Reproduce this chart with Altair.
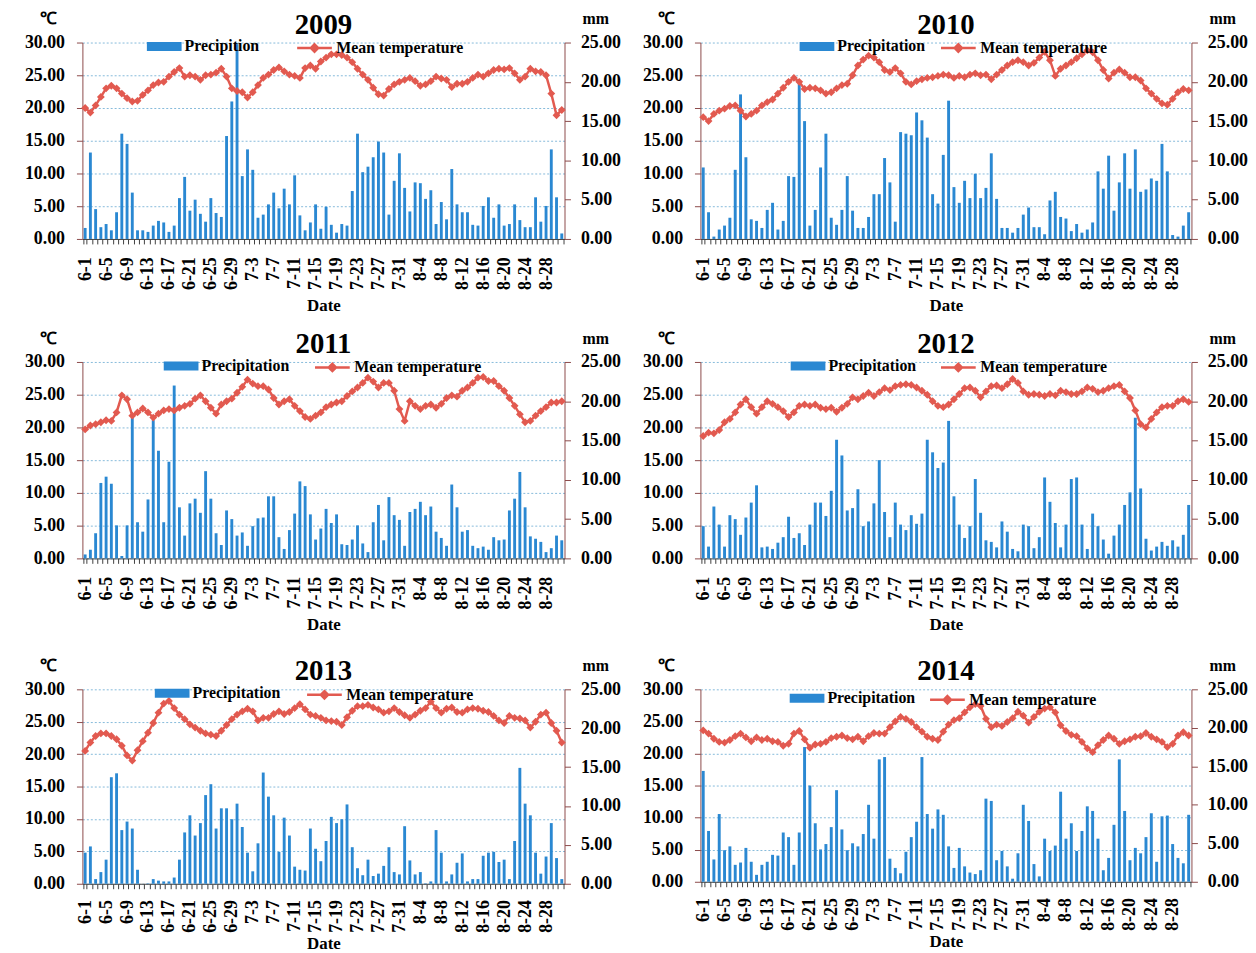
import json
import altair as alt
import pandas as pd

MONTHS = [(6, 30), (7, 31), (8, 31)]
dates = [f"{m}-{d}" for m, n in MONTHS for d in range(1, n + 1)]
shown_labels = dates[::4]

prec_2009 = [1.4, 11.0, 3.8, 1.5, 1.9, 1.1, 3.4, 13.4, 12.1, 5.9,
             1.1, 1.1, 0.9, 1.7, 2.3, 2.1, 0.9, 1.7, 5.2, 7.9,
             3.6, 5.0, 3.2, 2.2, 5.2, 3.3, 2.8, 13.1, 17.5, 24.8,
             8.0, 11.4, 8.8, 2.7, 3.1, 4.4, 5.9, 3.9, 6.4, 4.4,
             8.1, 3.0, 1.1, 2.1, 4.4, 1.3, 4.1, 1.8, 0.8, 1.9,
             1.7, 6.1, 13.4, 8.5, 9.2, 10.4, 12.4, 11.0, 3.1, 7.4,
             10.9, 6.5, 3.5, 7.2, 7.1, 5.1, 6.2, 1.9, 4.7, 2.5,
             8.9, 4.4, 3.4, 3.4, 1.8, 1.7, 4.2, 5.3, 2.7, 4.4,
             1.7, 1.9, 4.4, 2.4, 1.5, 1.5, 5.3, 2.2, 4.2, 11.4,
             5.3, 0.7]
temp_2009 = [20.0, 19.3, 20.4, 21.7, 23.0, 23.4, 23.0, 22.2, 21.5, 21.0,
             21.1, 22.0, 22.7, 23.5, 23.9, 24.0, 24.8, 25.5, 26.1, 24.8,
             25.0, 24.8, 24.3, 25.0, 25.1, 25.4, 26.0, 24.8, 23.0, 22.6,
             22.4, 21.6, 22.4, 23.5, 24.6, 25.1, 25.8, 26.2, 25.6, 25.1,
             24.9, 24.6, 26.1, 26.5, 26.0, 27.1, 27.7, 28.2, 28.2, 28.1,
             27.7, 27.0, 26.0, 25.1, 24.3, 23.1, 22.1, 21.9, 22.9, 23.6,
             24.0, 24.3, 24.6, 24.1, 23.4, 23.6, 24.1, 24.8, 24.5, 24.3,
             23.2, 23.7, 23.7, 24.0, 24.6, 25.1, 24.8, 25.3, 25.8, 26.0,
             25.9, 26.1, 25.3, 24.3, 24.8, 26.0, 25.6, 25.5, 25.0, 22.2,
             18.9, 19.7]

prec_2010 = [9.1, 3.4, 0.3, 1.2, 1.7, 2.7, 8.8, 18.4, 10.4, 2.5,
             2.3, 1.4, 3.7, 4.6, 1.2, 2.3, 8.0, 7.9, 20.0, 15.0,
             1.7, 3.7, 9.1, 13.4, 2.7, 1.8, 3.7, 8.0, 3.6, 1.4,
             1.4, 2.8, 5.7, 5.7, 10.3, 7.2, 2.2, 13.6, 13.4, 13.2,
             16.1, 15.1, 12.9, 5.7, 4.5, 10.7, 17.6, 6.6, 4.6, 7.4,
             5.2, 8.3, 5.2, 6.5, 10.9, 5.1, 1.4, 1.4, 0.8, 1.4,
             3.1, 4.0, 1.5, 1.5, 0.6, 4.9, 6.0, 2.8, 2.6, 1.0,
             1.9, 0.8, 1.2, 2.1, 8.6, 6.4, 10.6, 3.6, 7.2, 10.9,
             6.4, 11.4, 6.0, 6.3, 7.7, 7.4, 12.1, 8.6, 0.5, 0.3,
             1.7, 3.4]
temp_2010 = [18.6, 18.0, 19.1, 19.6, 19.9, 20.3, 20.4, 19.6, 18.7, 19.1,
             19.6, 20.4, 20.9, 21.3, 22.2, 23.1, 24.0, 24.6, 24.0, 22.9,
             23.1, 23.0, 22.7, 22.2, 22.4, 23.0, 23.5, 23.7, 25.0, 26.5,
             27.4, 28.0, 27.7, 27.0, 25.8, 25.5, 26.1, 25.3, 24.0, 23.6,
             24.1, 24.4, 24.6, 24.7, 24.9, 25.1, 25.0, 24.6, 24.9, 24.7,
             25.1, 25.3, 25.0, 25.1, 24.4, 25.1, 25.8, 26.5, 27.0, 27.3,
             27.0, 26.5, 26.9, 27.7, 28.6, 27.3, 24.9, 26.0, 26.5, 27.0,
             27.6, 28.2, 28.8, 28.5, 27.3, 25.8, 24.5, 25.4, 25.9, 25.4,
             24.7, 24.7, 24.2, 23.0, 22.2, 21.4, 20.7, 20.5, 21.4, 22.4,
             22.9, 22.7]

prec_2011 = [0.5, 1.1, 3.2, 9.6, 10.4, 9.5, 4.2, 0.3, 4.2, 17.9,
             4.6, 3.4, 7.5, 17.6, 13.7, 4.6, 12.3, 22.0, 6.5, 2.9,
             7.0, 7.6, 5.8, 11.1, 7.6, 3.2, 1.7, 6.1, 5.0, 2.9,
             3.3, 1.6, 4.1, 5.1, 5.2, 7.9, 7.9, 2.7, 1.2, 3.6,
             5.7, 9.8, 9.2, 5.6, 2.4, 3.8, 6.3, 4.5, 5.6, 1.8,
             1.7, 2.4, 4.2, 1.9, 0.8, 4.6, 6.8, 2.3, 7.8, 5.5,
             4.9, 1.6, 5.9, 6.3, 7.2, 5.5, 6.6, 3.4, 2.6, 1.6,
             9.4, 6.5, 3.4, 3.6, 1.6, 1.3, 1.5, 1.1, 2.7, 2.3,
             2.4, 6.1, 7.6, 11.0, 6.5, 2.8, 2.5, 2.1, 0.8, 1.3,
             2.9, 2.3]
temp_2011 = [19.7, 20.3, 20.5, 20.8, 21.1, 21.0, 22.3, 24.9, 24.3, 21.8,
             22.3, 22.9, 22.3, 21.5, 22.1, 22.6, 22.8, 22.6, 23.0, 23.3,
             23.6, 24.4, 24.9, 24.0, 23.0, 22.1, 23.5, 24.0, 24.4, 25.3,
             26.2, 27.3, 26.7, 26.3, 26.3, 25.8, 24.5, 23.5, 24.0, 24.3,
             23.3, 22.5, 21.6, 21.3, 21.8, 22.3, 23.1, 23.5, 23.8, 24.0,
             24.8, 25.5, 26.1, 26.8, 27.6, 27.0, 26.1, 26.8, 26.8, 25.6,
             22.8, 21.0, 24.0, 23.3, 22.8, 23.3, 23.5, 23.0, 23.6, 24.5,
             24.9, 24.7, 25.6, 26.1, 26.8, 27.6, 27.7, 27.1, 27.1, 26.3,
             25.6, 24.5, 23.3, 22.0, 20.8, 21.0, 21.8, 22.5, 23.1, 23.8,
             23.8, 24.0]

prec_2012 = [4.1, 1.5, 6.6, 4.3, 1.5, 5.5, 5.0, 3.0, 5.2, 7.1,
             9.3, 1.4, 1.5, 1.2, 2.0, 2.7, 5.3, 2.6, 3.2, 1.7,
             4.3, 7.1, 7.1, 5.4, 8.6, 15.1, 13.1, 6.1, 6.4, 8.8,
             4.1, 4.7, 7.0, 12.5, 5.9, 2.7, 7.1, 4.3, 3.6, 5.5,
             4.4, 5.7, 15.1, 13.5, 11.5, 12.2, 17.5, 7.9, 4.3, 2.6,
             4.1, 10.1, 5.8, 2.3, 2.1, 1.4, 4.7, 3.4, 1.2, 0.9,
             4.3, 4.1, 1.3, 2.7, 10.3, 7.2, 4.5, 1.4, 4.3, 10.1,
             10.3, 4.3, 1.2, 5.7, 4.1, 2.4, 0.6, 2.9, 4.3, 6.8,
             8.4, 17.9, 8.9, 2.5, 1.0, 1.5, 2.1, 1.6, 2.3, 1.5,
             3.0, 6.8]
temp_2012 = [18.7, 19.2, 19.1, 19.6, 20.8, 21.3, 22.3, 23.5, 24.3, 23.1,
             22.1, 23.1, 24.0, 23.6, 23.1, 22.5, 21.6, 22.3, 23.3, 23.5,
             23.3, 23.5, 23.0, 22.8, 23.0, 22.4, 23.0, 23.6, 24.6, 24.3,
             24.8, 25.3, 24.8, 25.4, 26.0, 25.7, 26.3, 26.5, 26.6, 26.5,
             26.1, 25.6, 25.0, 24.0, 23.3, 23.1, 23.5, 24.3, 25.1, 26.0,
             26.1, 25.6, 24.6, 25.5, 26.3, 26.4, 26.0, 26.6, 27.4, 26.8,
             25.5, 25.0, 25.1, 25.0, 24.8, 25.1, 24.9, 25.6, 25.4, 25.1,
             25.1, 25.5, 26.1, 25.9, 25.4, 25.6, 26.0, 26.3, 26.5, 25.5,
             24.5, 22.6, 20.5, 20.0, 21.3, 22.3, 23.1, 23.3, 23.3, 24.0,
             24.3, 23.9]

prec_2013 = [4.0, 4.8, 0.6, 1.5, 3.1, 13.7, 14.2, 6.9, 8.0, 7.1,
             1.8, 0.0, 0.05, 0.6, 0.4, 0.3, 0.3, 0.8, 3.1, 6.6,
             8.8, 6.2, 7.8, 11.4, 12.8, 7.1, 9.7, 9.7, 8.3, 10.3,
             7.3, 4.0, 1.6, 5.2, 14.3, 11.2, 8.8, 4.1, 8.5, 6.2,
             2.2, 1.8, 1.7, 7.1, 4.5, 2.9, 5.5, 8.6, 7.8, 8.3,
             10.2, 4.7, 2.0, 1.1, 3.1, 1.0, 1.3, 2.3, 4.7, 1.5,
             1.2, 7.4, 3.0, 1.2, 1.5, 0.05, 0.3, 6.9, 4.0, 0.3,
             1.2, 2.7, 3.9, 0.3, 0.6, 0.6, 3.6, 4.0, 4.1, 2.8,
             3.1, 0.6, 5.5, 14.9, 10.3, 8.8, 4.0, 1.3, 3.5, 7.8,
             3.3, 0.6]
temp_2013 = [20.5, 21.8, 22.8, 23.2, 23.2, 22.8, 22.3, 21.3, 19.8, 19.0,
             20.6, 22.0, 23.3, 24.8, 26.4, 27.8, 28.2, 27.1, 26.1, 25.4,
             24.6, 24.1, 23.6, 23.2, 23.0, 22.8, 23.6, 24.5, 25.4, 26.1,
             26.6, 27.0, 26.6, 25.2, 25.6, 25.6, 26.2, 26.6, 26.2, 26.5,
             27.1, 27.7, 26.9, 26.1, 25.9, 25.6, 25.2, 25.1, 25.0, 24.5,
             25.7, 26.7, 27.4, 27.4, 27.6, 27.2, 26.9, 26.4, 26.6, 27.1,
             26.5, 26.0, 25.6, 26.1, 26.7, 27.1, 28.1, 27.1, 26.4, 27.0,
             27.2, 26.5, 26.4, 26.9, 27.1, 27.0, 26.7, 26.5, 25.9, 25.2,
             24.8, 25.9, 25.6, 25.5, 25.2, 24.1, 25.0, 26.1, 26.4, 24.8,
             23.6, 21.8]

prec_2014 = [14.4, 6.6, 2.9, 8.8, 4.1, 4.6, 2.2, 2.5, 4.4, 2.6,
             0.9, 2.2, 2.6, 3.5, 3.4, 6.4, 5.8, 2.2, 6.4, 17.5,
             12.5, 7.6, 4.2, 4.9, 7.1, 11.9, 6.8, 4.1, 5.0, 4.6,
             6.2, 10.0, 5.6, 15.9, 16.2, 3.0, 1.8, 1.1, 3.9, 5.8,
             7.8, 16.2, 8.8, 6.9, 9.4, 8.7, 4.6, 1.8, 4.4, 2.0,
             1.2, 1.0, 1.5, 10.8, 10.5, 2.8, 4.0, 2.0, 0.4, 3.7,
             10.0, 7.9, 2.3, 0.7, 5.6, 4.0, 4.7, 11.7, 5.6, 7.6,
             4.0, 6.6, 9.8, 9.2, 5.6, 1.5, 3.1, 7.4, 15.9, 9.2,
             2.8, 4.4, 3.7, 5.8, 8.9, 2.6, 8.5, 8.6, 4.9, 3.1,
             2.4, 8.7]
temp_2014 = [23.6, 23.1, 22.3, 21.8, 21.7, 22.1, 22.7, 23.1, 22.5, 21.9,
             22.5, 22.1, 22.3, 21.9, 21.8, 21.2, 21.5, 23.1, 23.5, 22.2,
             20.9, 21.4, 21.5, 21.8, 22.4, 22.6, 22.8, 22.4, 22.2, 22.6,
             21.9, 22.7, 23.2, 23.1, 23.1, 24.1, 25.0, 25.7, 25.4, 24.9,
             24.1, 23.4, 22.6, 22.3, 22.1, 23.4, 24.5, 25.2, 25.5, 26.4,
             27.2, 27.7, 27.4, 25.4, 24.1, 24.5, 24.3, 24.9, 25.5, 26.5,
             25.9, 24.8, 25.7, 26.5, 27.0, 27.2, 26.4, 24.4, 23.5, 22.9,
             22.7, 21.8, 20.8, 20.2, 21.3, 22.1, 22.8, 22.3, 21.5, 21.9,
             22.2, 22.6, 22.7, 23.2, 22.6, 22.2, 21.8, 21.0, 21.5, 22.8,
             23.3, 22.8]

temp_ticks = [0, 5, 10, 15, 20, 25, 30]
prec_ticks = [0, 5, 10, 15, 20, 25]

SERIF = "Liberation Serif"
BLUE = "#2a88d2"
RED = "#e25a50"
AXIS_RED = "#8c4a4a"
GRID = "#86badb"
BAR_PATH = "M-1,-0.26H1V0.26H-1Z"
LINE_PATH = "M-1,0H1M0,-0.21L0.21,0L0,0.21L-0.21,0Z"

label_expr = "indexof(" + json.dumps(shown_labels) + ", datum.value) >= 0 ? datum.value : ''"


def panel(year, prec, temp, prec_label, width, height,
          bar_lx, line_lx, leg_y, xlab_pad, xtitle_pad):
    df = pd.DataFrame({
        "date": dates, "prec": prec, "temp": temp,
        "pname": prec_label, "tname": "Mean temperature",
    })
    xaxis = alt.Axis(
        title="Date", labelAngle=270, labelExpr=label_expr, labelOverlap=False,
        tickBand="extent", tickSize=5, tickColor="#404040", domainColor="#404040",
        labelFont=SERIF, labelFontSize=18, labelFontWeight="bold", labelColor="black",
        labelPadding=xlab_pad, titleFont=SERIF, titleFontSize=17, titleFontWeight="bold",
        titleColor="black", titlePadding=xtitle_pad, grid=False,
    )
    x = alt.X("date:N", sort=dates,
              scale=alt.Scale(paddingInner=0.45, paddingOuter=0.25), axis=xaxis)
    bars = alt.Chart(df).mark_bar().encode(
        x=x,
        y=alt.Y("prec:Q", scale=alt.Scale(domain=[0, 25], nice=False),
                axis=alt.Axis(orient="right", values=prec_ticks, format=".2f",
                              title="mm", titleAngle=0, titleX=31, titleY=-24,
                              titleAlign="center", titleBaseline="middle",
                              titleFont=SERIF, titleFontSize=16, titleFontWeight="bold",
                              titleColor="black", labelFont=SERIF, labelFontSize=18,
                              labelFontWeight="bold", labelColor="black", labelPadding=10,
                              tickSize=6, tickColor=AXIS_RED, domainColor=AXIS_RED,
                              grid=False)),
        fill=alt.Fill("pname:N", scale=alt.Scale(domain=[prec_label], range=[BLUE]),
                      legend=alt.Legend(orient="none", legendX=bar_lx, legendY=leg_y,
                                        title=None, symbolType=BAR_PATH, symbolSize=1225,
                                        symbolStrokeWidth=0, labelFont=SERIF,
                                        labelFontSize=16, labelFontWeight="bold",
                                        labelColor="black", labelOffset=3, padding=0)),
    )
    line = alt.Chart(df).mark_line(
        strokeWidth=2.5,
        point=alt.OverlayMarkDef(shape="diamond", size=26, filled=True, fill=RED),
    ).encode(
        x=x,
        y=alt.Y("temp:Q", scale=alt.Scale(domain=[0, 30], nice=False),
                axis=alt.Axis(orient="left", values=temp_ticks, format=".2f",
                              title="℃", titleAngle=0, titleX=-35, titleY=-24,
                              titleAlign="center", titleBaseline="middle",
                              titleFont=SERIF, titleFontSize=17, titleFontWeight="bold",
                              titleColor="black", labelFont=SERIF, labelFontSize=18,
                              labelFontWeight="bold", labelColor="black",
                              labelPadding=12, tickSize=6, tickColor=AXIS_RED,
                              domainColor=AXIS_RED, grid=True, gridColor=GRID,
                              gridDash=[2, 2], gridWidth=1)),
        stroke=alt.Stroke("tname:N",
                          scale=alt.Scale(domain=["Mean temperature"], range=[RED]),
                          legend=alt.Legend(orient="none", legendX=line_lx, legendY=leg_y,
                                            title=None, symbolType=LINE_PATH,
                                            symbolSize=1225, symbolStrokeWidth=2.5,
                                            symbolFillColor=RED, labelFont=SERIF,
                                            labelFontSize=16, labelFontWeight="bold",
                                            labelColor="black", labelOffset=3, padding=0)),
    )
    return alt.layer(bars, line).resolve_scale(y="independent").properties(
        width=width, height=height,
        title=alt.TitleParams(str(year), font=SERIF, fontSize=29, fontWeight="bold",
                              color="black", anchor="middle", frame="group",
                              baseline="alphabetic", offset=0, dy=53),
    )


def indep(c):
    return c.resolve_scale(fill="independent", stroke="independent",
                           y="independent", x="independent").resolve_legend(
        fill="independent", stroke="independent")


p09 = panel(2009, prec_2009, temp_2009, "Precipition", 486, 198, 65, 215, -13.5, 13, 8)
p10 = panel(2010, prec_2010, temp_2010, "Precipitation", 495, 198, 100, 241, -13.5, 13, 8)
p11 = panel(2011, prec_2011, temp_2011, "Precipitation", 486, 198, 82, 233, -13.5, 13, 8)
p12 = panel(2012, prec_2012, temp_2012, "Precipitation", 495, 198, 91, 241, -13.5, 13, 8)
p13 = panel(2013, prec_2013, temp_2013, "Precipitation", 486, 196, 73, 225, -13.5, 11, 3)
p14 = panel(2014, prec_2014, temp_2014, "Precipitation", 495, 194, 90, 230, -8.5, 11, 3)

row1 = indep(alt.hconcat(p09, p10, spacing=21))
row2 = indep(alt.hconcat(p11, p12, spacing=21))
row3 = indep(alt.hconcat(p13, p14, spacing=21))
top = indep(alt.vconcat(row1, row2, spacing=16))
chart = indep(alt.vconcat(top, row3, spacing=24)).properties(
    padding={"left": 16, "top": -2, "right": 0, "bottom": 0},
    background="white",
).configure_view(stroke=None)

chart.save("out.html", embed_options={"renderer": "svg", "actions": False})
